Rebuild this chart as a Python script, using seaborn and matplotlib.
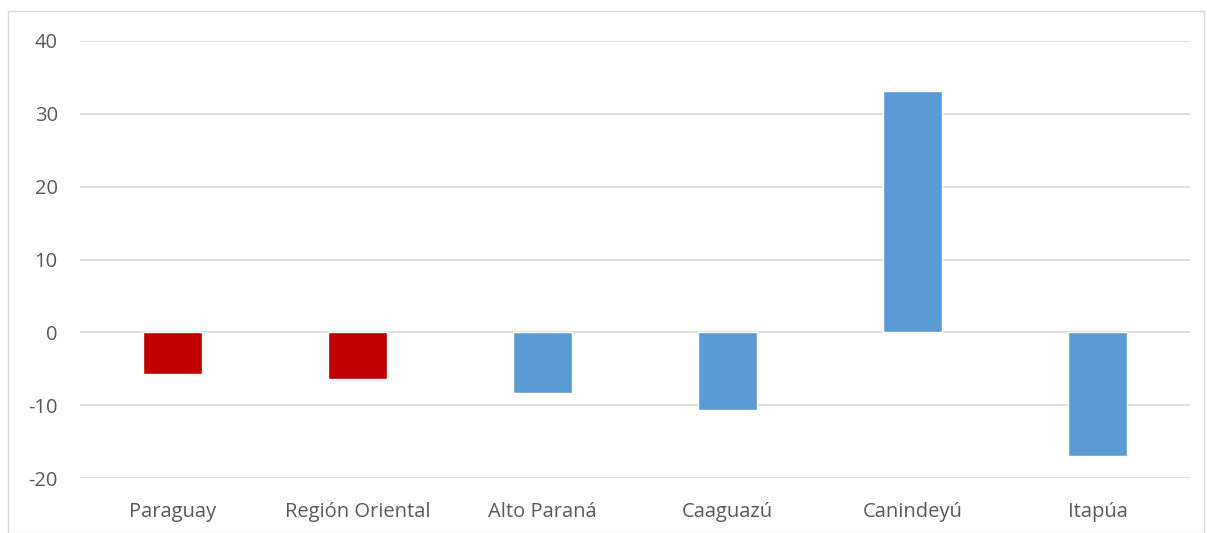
import matplotlib
matplotlib.use("Agg")
import matplotlib.pyplot as plt
import seaborn as sns
import pandas as pd
from matplotlib.patches import Rectangle

categories = ["Paraguay", "Región Oriental", "Alto Paraná", "Caaguazú", "Canindeyú", "Itapúa"]
values = [-5.7, -6.4, -8.3, -10.6, 33.2, -17.0]
bar_colors = ["#C00000", "#C00000", "#5B9BD5", "#5B9BD5", "#5B9BD5", "#5B9BD5"]
yticks = [-20, -10, 0, 10, 20, 30, 40]

df = pd.DataFrame({"cat": categories, "val": values})

sns.set_theme(style="white")
plt.rcParams["font.family"] = ["Open Sans", "DejaVu Sans"]
plt.rcParams["axes.unicode_minus"] = False

fig = plt.figure(figsize=(12.07, 5.33), dpi=100)
ax = fig.add_axes([80/1207, 1 - 478/533, 1110/1207, 437/533])

sns.barplot(data=df, x="cat", y="val", hue="cat", palette=bar_colors,
            width=0.315, legend=False, ax=ax, saturation=1, zorder=3)

ax.set_ylim(-20, 40)
ax.set_yticks(yticks)
ax.set_xlim(-0.5, len(categories) - 0.5)
ax.yaxis.grid(True, color="#D9D9D9", linewidth=1.2, zorder=0)
ax.set_axisbelow(True)
for s in ax.spines.values():
    s.set_visible(False)
ax.set_xlabel("")
ax.set_ylabel("")
ax.tick_params(axis="both", length=0, labelsize=14.5, labelcolor="#595959")
ax.tick_params(axis="y", pad=16)
ax.tick_params(axis="x", pad=17)

fig.patches.append(Rectangle((8/1207, 0), 1196/1207, 1 - 11/533, transform=fig.transFigure,
                             fill=False, edgecolor="#D9D9D9", linewidth=1))

fig.savefig("out.png", dpi=100)
